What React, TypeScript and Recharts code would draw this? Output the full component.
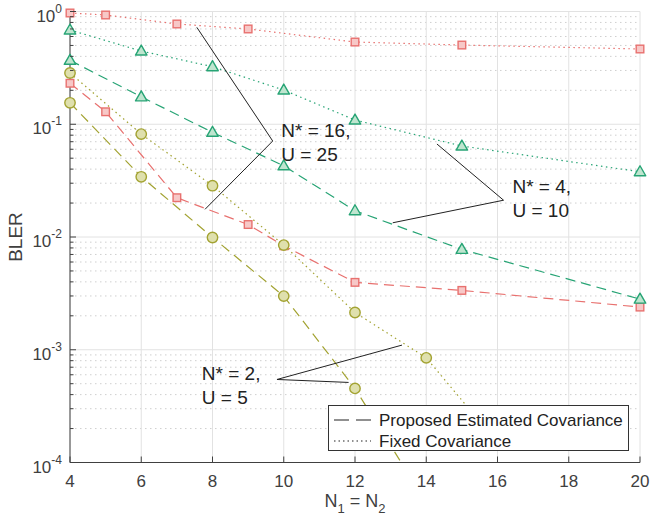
import React from 'react';
import {
  ComposedChart, Line, XAxis, YAxis, CartesianGrid, ReferenceLine, ReferenceDot, Label,
} from 'recharts';

// axis ticks
const xTicks = [4, 6, 8, 10, 12, 14, 16, 18, 20];
const yMajor = [1e-4, 1e-3, 1e-2, 1e-1, 1];
const yExp = ['-4', '-3', '-2', '-1', '0'];
const yMinor = [1e-4, 1e-3, 1e-2, 1e-1].flatMap((d) => [2, 3, 4, 5, 6, 7, 8, 9].map((m) => +(m * d).toPrecision(2)));

// N* = 16, U = 25
const n16FixedX = [4, 5, 7, 9, 12, 15, 20];
const n16Fixed = [0.97, 0.931, 0.775, 0.70, 0.536, 0.504, 0.465];
const n16PropX = [4, 5, 7, 9, 10, 12, 15, 20];
const n16Prop = [0.231, 0.129, 0.0223, 0.0129, 0.00835, 0.00396, 0.00336, 0.00239];

// N* = 4, U = 10
const n4X = [4, 6, 8, 10, 12, 15, 20];
const n4Fixed = [0.685, 0.446, 0.324, 0.201, 0.109, 0.0641, 0.0379];
const n4Prop = [0.369, 0.175, 0.0848, 0.0428, 0.0171, 0.00776, 0.00281];

// N* = 2, U = 5
const n2FixedX = [4, 6, 8, 10, 12, 14, 16];
const n2Fixed = [0.285, 0.0818, 0.0285, 0.00848, 0.00214, 0.000848, 0.00015];
const n2PropX = [4, 6, 8, 10, 12, 14];
const n2Prop = [0.155, 0.0342, 0.0099, 0.00299, 0.000454, 0.000044];

const AXIS = '#404040';
const FONT = '"Liberation Sans", Arial, Helvetica, sans-serif';
const RED = '#e8716f';
const GREEN = '#27a475';
const OLIVE = '#a3a332';

const DASH = '10 6';
const DOT = '1.5 3.5';

const series = [
  { key: 'n16f', x: n16FixedX, y: n16Fixed, color: RED, fill: '#f7c8c7', marker: 'square', dash: DOT },
  { key: 'n16p', x: n16PropX, y: n16Prop, color: RED, fill: '#f7c8c7', marker: 'square', dash: DASH },
  { key: 'n4f', x: n4X, y: n4Fixed, color: GREEN, fill: '#bfe5cf', marker: 'triangle', dash: DOT },
  { key: 'n4p', x: n4X, y: n4Prop, color: GREEN, fill: '#bfe5cf', marker: 'triangle', dash: DASH },
  { key: 'n2f', x: n2FixedX, y: n2Fixed, color: OLIVE, fill: '#dfe0ad', marker: 'circle', dash: DOT },
  { key: 'n2p', x: n2PropX, y: n2Prop, color: OLIVE, fill: '#dfe0ad', marker: 'circle', dash: DASH },
];

// annotation callouts, in data coordinates
const callouts = [
  { text: ['N* = 16,', 'U = 25'], at: { x: 9.93, y: 0.077 }, lines: [[{ x: 7.56, y: 0.724 }, { x: 9.69, y: 0.071 }], [{ x: 9.69, y: 0.071 }, { x: 7.79, y: 0.0176 }]] },
  { text: ['N* = 4,', 'U = 10'], at: { x: 16.42, y: 0.0245 }, lines: [[{ x: 14.3, y: 0.0668 }, { x: 16.17, y: 0.0212 }], [{ x: 16.17, y: 0.0212 }, { x: 13.06, y: 0.01337 }]] },
  { text: ['N* = 2,', 'U = 5'], at: { x: 7.7, y: 0.000537 }, lines: [[{ x: 13.32, y: 0.0011 }, { x: 9.81, y: 0.000545 }], [{ x: 9.81, y: 0.000545 }, { x: 11.82, y: 0.000513 }]] },
];

const Marker = ({ cx, cy, kind, color, fill }: any) => {
  if (cx == null || cy == null) return null;
  if (kind === 'square') {
    return <rect x={cx - 3.8} y={cy - 3.8} width={7.6} height={7.6} fill={fill} stroke={color} strokeWidth={1.4} />;
  }
  if (kind === 'triangle') {
    const h = 10;
    const w = 11.5;
    return (
      <polygon
        points={`${cx},${cy - h * 0.6} ${cx - w / 2},${cy + h * 0.4} ${cx + w / 2},${cy + h * 0.4}`}
        fill={fill} stroke={color} strokeWidth={1.4} strokeLinejoin="round"
      />
    );
  }
  return <circle cx={cx} cy={cy} r={5.2} fill={fill} stroke={color} strokeWidth={1.4} />;
};

const YTickLeft = ({ x, y, payload }: any) => {
  const i = yMajor.indexOf(payload.value);
  const major = i >= 0;
  return (
    <g>
      <line x1={x} x2={x + (major ? 6 : 3.5)} y1={y} y2={y} stroke={AXIS} strokeWidth={1} />
      {major && (
        <text x={x - 8} y={y + 10} textAnchor="end" fontSize={17} fill={AXIS} fontFamily={FONT}>
          10<tspan dy={-9} fontSize={12}>{yExp[i]}</tspan>
        </text>
      )}
    </g>
  );
};

const YTickRight = ({ x, y, payload }: any) => {
  const major = yMajor.indexOf(payload.value) >= 0;
  return <line x1={x} x2={x - (major ? 6 : 3.5)} y1={y} y2={y} stroke={AXIS} strokeWidth={1} />;
};

const XTickBottom = ({ x, y, payload }: any) => (
  <g>
    <line x1={x} x2={x} y1={y} y2={y - 6} stroke={AXIS} strokeWidth={1} />
    <text x={x} y={y + 24} textAnchor="middle" fontSize={17} fill={AXIS} fontFamily={FONT}>{payload.value}</text>
  </g>
);

const XTickTop = ({ x, y }: any) => <line x1={x} x2={x} y1={y} y2={y + 6} stroke={AXIS} strokeWidth={1} />;

const Callout = ({ cx, cy, text }: any) => (
  <text x={cx} y={cy} fontSize={19} fill="#222" fontFamily={FONT}>
    <tspan x={cx}>{text[0]}</tspan>
    <tspan x={cx} dy={24}>{text[1]}</tspan>
  </text>
);

export default function App() {
  return (
    <div style={{ position: 'absolute', left: 0, top: 0, width: 651, height: 524, background: '#fff', fontFamily: FONT }}>
      <ComposedChart width={651} height={524} margin={{ top: 11.5, right: 11, bottom: 0, left: 0 }}>
        <CartesianGrid vertical={false} horizontalValues={yMinor} stroke="#cfcfcf" strokeDasharray="1.5 3.5" />
        <CartesianGrid verticalValues={xTicks} horizontalValues={yMajor} stroke="#e2e2e2" />
        <XAxis
          dataKey="x" type="number" domain={[4, 20]} ticks={xTicks} allowDataOverflow
          axisLine={{ stroke: AXIS }} tickLine={false} tickSize={0} tickMargin={0} tick={<XTickBottom />} height={61.5}
        >
          <Label
            content={({ viewBox }: any) => (
              <text x={viewBox.x + viewBox.width / 2} y={viewBox.y + 44} textAnchor="middle" fontSize={18} fill={AXIS} fontFamily={FONT}>
                N<tspan dy={6} fontSize={13}>1</tspan><tspan dy={-6}> = N</tspan><tspan dy={6} fontSize={13}>2</tspan>
              </text>
            )}
          />
        </XAxis>
        <XAxis
          xAxisId="top" orientation="top" dataKey="x" type="number" domain={[4, 20]} ticks={xTicks} allowDataOverflow
          axisLine={{ stroke: AXIS }} tickLine={false} tickSize={0} tickMargin={0} tick={<XTickTop />} height={0}
        />
        <YAxis
          scale="log" type="number" domain={[1e-4, 1]} allowDataOverflow ticks={[...yMinor, ...yMajor]} interval={0}
          axisLine={{ stroke: AXIS }} tickLine={false} tickSize={0} tickMargin={0} tick={<YTickLeft />} width={70}
        >
          <Label
            content={({ viewBox }: any) => {
              const cx = 15;
              const cy = viewBox.y + viewBox.height / 2;
              return (
                <text x={cx} y={cy} transform={`rotate(-90 ${cx} ${cy})`} textAnchor="middle" dominantBaseline="central" fontSize={19} fill={AXIS} fontFamily={FONT}>
                  BLER
                </text>
              );
            }}
          />
        </YAxis>
        <YAxis
          yAxisId="right" orientation="right" scale="log" type="number" domain={[1e-4, 1]} allowDataOverflow ticks={[...yMinor, ...yMajor]} interval={0}
          axisLine={{ stroke: AXIS }} tickLine={false} tickSize={0} tickMargin={0} tick={<YTickRight />} width={0}
        />

        {series.map((s) => (
          <Line
            key={s.key}
            data={s.x.map((x, i) => ({ x, y: s.y[i] }))}
            dataKey="y"
            type="linear"
            stroke={s.color}
            strokeWidth={1.2}
            strokeDasharray={s.dash}
            dot={false}
            activeDot={false}
            isAnimationActive={false}
          />
        ))}

        {series.flatMap((s) =>
          s.x.map((x, i) => (
            <ReferenceDot
              key={`${s.key}-${i}`}
              x={x}
              y={s.y[i]}
              ifOverflow="discard"
              shape={(p: any) => <Marker cx={p.cx} cy={p.cy} kind={s.marker} color={s.color} fill={s.fill} />}
            />
          )),
        )}

        {callouts.flatMap((c, ci) =>
          c.lines.map((seg, si) => (
            <ReferenceLine key={`cl-${ci}-${si}`} segment={seg} stroke="#222" strokeWidth={1} ifOverflow="visible" />
          )),
        )}
        {callouts.map((c, ci) => (
          <ReferenceDot
            key={`ct-${ci}`}
            x={c.at.x}
            y={c.at.y}
            ifOverflow="visible"
            shape={(p: any) => <Callout cx={p.cx} cy={p.cy} text={c.text} />}
          />
        ))}
      </ComposedChart>

      <div
        style={{
          position: 'absolute', left: 328, top: 405, width: 301, height: 46, background: '#fff',
          border: '1px solid #333', boxSizing: 'border-box', fontSize: 17, color: '#222',
        }}
      >
        <svg width={300} height={46} style={{ position: 'absolute', left: 0, top: 0 }}>
          <line x1={5} x2={42} y1={14} y2={14} stroke="#222" strokeWidth={1.2} strokeDasharray="15 7" />
          <line x1={5} x2={42} y1={35} y2={35} stroke="#222" strokeWidth={1.2} strokeDasharray="1.5 3" />
          <text x={50} y={20} fontSize={17} fill="#222" fontFamily={FONT}>Proposed Estimated Covariance</text>
          <text x={50} y={41} fontSize={17} fill="#222" fontFamily={FONT}>Fixed Covariance</text>
        </svg>
      </div>
    </div>
  );
}
